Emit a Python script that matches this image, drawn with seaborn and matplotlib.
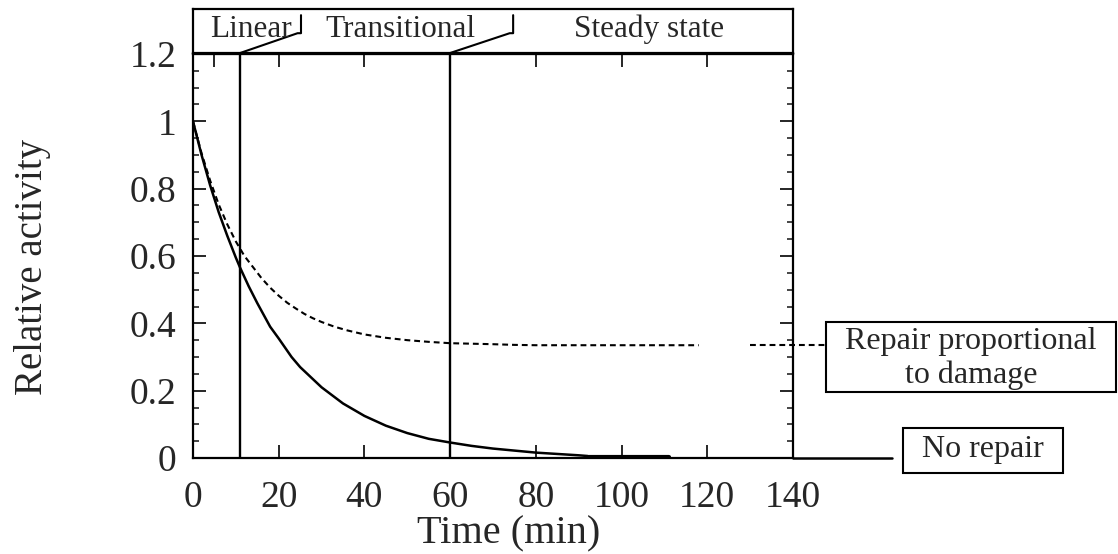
import matplotlib
matplotlib.use("Agg")

import numpy as np
import pandas as pd
import matplotlib.pyplot as plt
import seaborn as sns
from matplotlib.patches import Rectangle
from matplotlib.ticker import MultipleLocator

# ------------------------------------------------------------------
# Data
# ------------------------------------------------------------------
# no repair (solid)
norep_t = [0, 2, 4, 6, 8, 10, 11, 13, 15, 18, 20, 23, 25, 30, 35, 40, 45,
           50, 55, 60, 65, 70, 75, 80, 85, 90, 92]
norep_y = [1.0, 0.90, 0.81, 0.73, 0.66, 0.595, 0.565, 0.51, 0.46, 0.39,
           0.355, 0.30, 0.27, 0.21, 0.162, 0.125, 0.096, 0.074, 0.057,
           0.046, 0.036, 0.028, 0.022, 0.016, 0.012, 0.008, 0.006]
norep_flat_t = [92, 111]
norep_flat_y = [0.003, 0.003]
norep_tail_t = [140, 163]
norep_tail_y = [0.0, 0.0]

# repair proportional to damage (dashed)
rep_t = [0, 2, 4, 6, 8, 10, 12, 14, 16, 18, 20, 22, 24, 26, 28, 30, 33,
         36, 40, 45, 50, 55, 60, 70, 75, 80, 90, 100, 110, 118]
rep_y = [1.0, 0.905, 0.824, 0.753, 0.694, 0.643, 0.600, 0.567, 0.534,
         0.506, 0.482, 0.461, 0.444, 0.428, 0.415, 0.404, 0.390, 0.379,
         0.367, 0.357, 0.350, 0.345, 0.341, 0.338, 0.336, 0.335, 0.335,
         0.335, 0.335, 0.335]
rep_tail_t = [130, 148]
rep_tail_y = [0.335, 0.335]

# phase boundaries (min)
phase_edges = [11, 60]
phase_labels = ["Linear", "Transitional", "Steady state"]
phase_label_x = [13.5, 48.5, 106.5]

x_ticks = [0, 20, 40, 60, 80, 100, 120, 140]
top_ticks = [5, 20, 40, 60, 80, 100, 120]
y_ticks = [0, 0.2, 0.4, 0.6, 0.8, 1.0, 1.2]
y_ticklabels = ["0", "0.2", "0.4", "0.6", "0.8", "1", "1.2"]

# ------------------------------------------------------------------
# Style
# ------------------------------------------------------------------
sns.set_style("ticks")
plt.rcParams["font.family"] = ["Liberation Serif", "DejaVu Serif"]
plt.rcParams["axes.linewidth"] = 1.5

W, H = 1118, 554
fig = plt.figure(figsize=(W / 100, H / 100), dpi=100)


def fx(px):
    return px / W


def fy(py):
    return 1 - py / H


ax = fig.add_axes([fx(193), fy(458), fx(600), 404 / H])

df_norep = pd.DataFrame({"t": norep_t, "y": norep_y})
df_rep = pd.DataFrame({"t": rep_t, "y": rep_y})

sns.lineplot(data=df_norep, x="t", y="y", ax=ax, color="black", lw=1.8,
             estimator=None, sort=False)
sns.lineplot(x=norep_flat_t, y=norep_flat_y, ax=ax, color="black", lw=3,
             estimator=None)
ax.plot(norep_tail_t, norep_tail_y, color="black", lw=1.8, clip_on=False)

dash = (0, (2.8, 1.9))
sns.lineplot(data=df_rep, x="t", y="y", ax=ax, color="black", lw=1.5,
             estimator=None, sort=False, linestyle=dash)
ax.plot(rep_tail_t, rep_tail_y, color="black", lw=1.5, linestyle=dash,
        clip_on=False)

for xe in phase_edges:
    ax.axvline(xe, color="black", lw=1.7)

ax.set_xlim(0, 140)
ax.set_ylim(0, 1.2)
ax.set_xticks(x_ticks)
ax.set_xticklabels([str(v) for v in x_ticks])
ax.set_yticks(y_ticks)
ax.set_yticklabels(y_ticklabels)
ax.yaxis.set_minor_locator(MultipleLocator(0.05))
ax.tick_params(axis="both", which="major", direction="in", length=9.5,
               width=1.4, labelsize=27, right=True, top=False)
ax.tick_params(axis="y", which="minor", direction="in", length=4.5,
               width=1.2, right=True)
ax.tick_params(axis="x", pad=16)
ax.tick_params(axis="y", pad=12)

top = ax.secondary_xaxis("top")
top.set_xticks(top_ticks)
top.tick_params(direction="in", length=9.5, width=1.4, labeltop=False)

for s in ax.spines.values():
    s.set_color("black")
    s.set_linewidth(1.6)

ax.set_xlabel("Time (min)", fontsize=29)
ax.set_ylabel("Relative activity", fontsize=28)
ax.xaxis.set_label_coords((509 - 193) / 600, (458 - 534) / 404)
ax.xaxis.label.set_va("center")
ax.yaxis.set_label_coords((32 - 193) / 600, (458 - 267) / 404)
ax.yaxis.label.set_va("center")

# ------------------------------------------------------------------
# Phase band on top
# ------------------------------------------------------------------
band = fig.add_axes([fx(193), fy(53), fx(600), 44 / H])
band.set_xlim(0, 140)
band.set_ylim(0, 1)
band.set_xticks([])
band.set_yticks([])
for s in band.spines.values():
    s.set_color("black")
    s.set_linewidth(1.6)
for lx, lab in zip(phase_label_x, phase_labels):
    band.text(lx, 0.36, lab, ha="center", va="baseline", fontsize=22.5)

# leader brackets from each phase boundary
for xe, xb in zip(phase_edges, [25.2, 74.7]):
    band.plot([xe, xb - 0.8, xb, xb], [0, 0.45, 0.45, 0.86],
              color="black", lw=1.5, clip_on=False)

# ------------------------------------------------------------------
# Curve labels in boxes
# ------------------------------------------------------------------
fig.add_artist(Rectangle((fx(826), fy(392)), fx(1116 - 826), (392 - 322) / H,
                         transform=fig.transFigure, fill=False,
                         edgecolor="black", lw=1.5))
fig.text(fx(971), fy(342), "Repair proportional", ha="center", va="center",
         fontsize=23)
fig.text(fx(971), fy(375), "to damage", ha="center", va="center",
         fontsize=23)

fig.add_artist(Rectangle((fx(903), fy(473)), fx(1063 - 903), (473 - 428) / H,
                         transform=fig.transFigure, fill=False,
                         edgecolor="black", lw=1.5))
fig.text(fx(983), fy(450), "No repair", ha="center", va="center",
         fontsize=23)

fig.savefig("out.png", dpi=100)
plt.close("all")
